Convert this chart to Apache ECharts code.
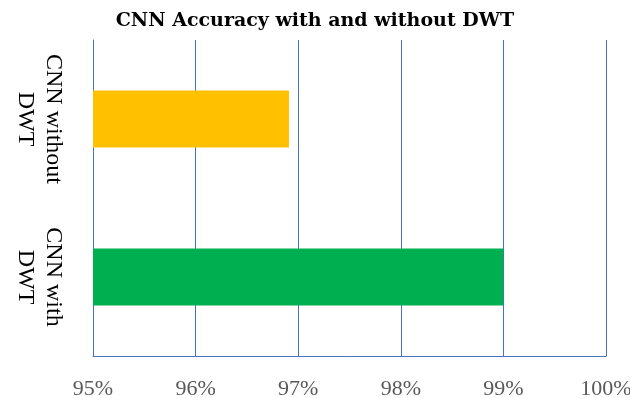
<!DOCTYPE html>
<html>
<head>
<meta charset="utf-8">
<script src="https://cdn.jsdelivr.net/npm/echarts@6/dist/echarts.min.js"></script>
<style>
  body { margin: 0; background: #fff; }
  #chart { width: 630px; height: 398px; }
</style>
</head>
<body>
<div id="chart"></div>
<script>
// data, bottom category first
var categories = ['CNN with\nDWT', 'CNN without\nDWT'];
var accuracy = [99.0, 96.91];
var barColors = ['#00B050', '#FFC000'];

var chart = echarts.init(document.getElementById('chart'));
var option = {
  title: {
    text: 'CNN Accuracy with and without DWT',
    left: 'center',
    top: 7,
    textStyle: {
      fontFamily: 'DejaVu Serif',
      fontWeight: 'bold',
      fontSize: 19,
      color: '#000'
    }
  },
  grid: {
    left: 93,
    right: 24,
    top: 40,
    bottom: 42,
    containLabel: false,
    outerBoundsMode: 'none'
  },
  xAxis: {
    type: 'value',
    min: 95,
    max: 100,
    interval: 1,
    axisLine: { show: true, lineStyle: { color: '#4472C4', width: 1 } },
    axisTick: { show: false },
    axisLabel: {
      margin: 22,
      fontFamily: 'Liberation Serif',
      fontSize: 22,
      color: '#595959',
      hideOverlap: false,
      formatter: function (v) { return v + '%'; }
    },
    splitLine: {
      show: true,
      lineStyle: { color: ['#4472C4'], width: 1, opacity: 1, type: 'solid' }
    }
  },
  yAxis: {
    type: 'category',
    data: categories,
    axisLine: { show: true, lineStyle: { color: '#4472C4', width: 1 } },
    axisTick: { show: false },
    axisLabel: {
      interval: 0,
      hideOverlap: false,
      rotate: -90,
      margin: 54,
      fontFamily: 'Liberation Serif',
      fontSize: 24,
      lineHeight: 28,
      color: '#000',
      align: 'center',
      verticalAlign: 'middle'
    }
  },
  series: [{
    type: 'bar',
    barWidth: '36%',
    data: accuracy.map(function (v, i) {
      return { value: v, itemStyle: { color: barColors[i] } };
    })
  }]
};
chart.setOption(option);
</script>
</body>
</html>
